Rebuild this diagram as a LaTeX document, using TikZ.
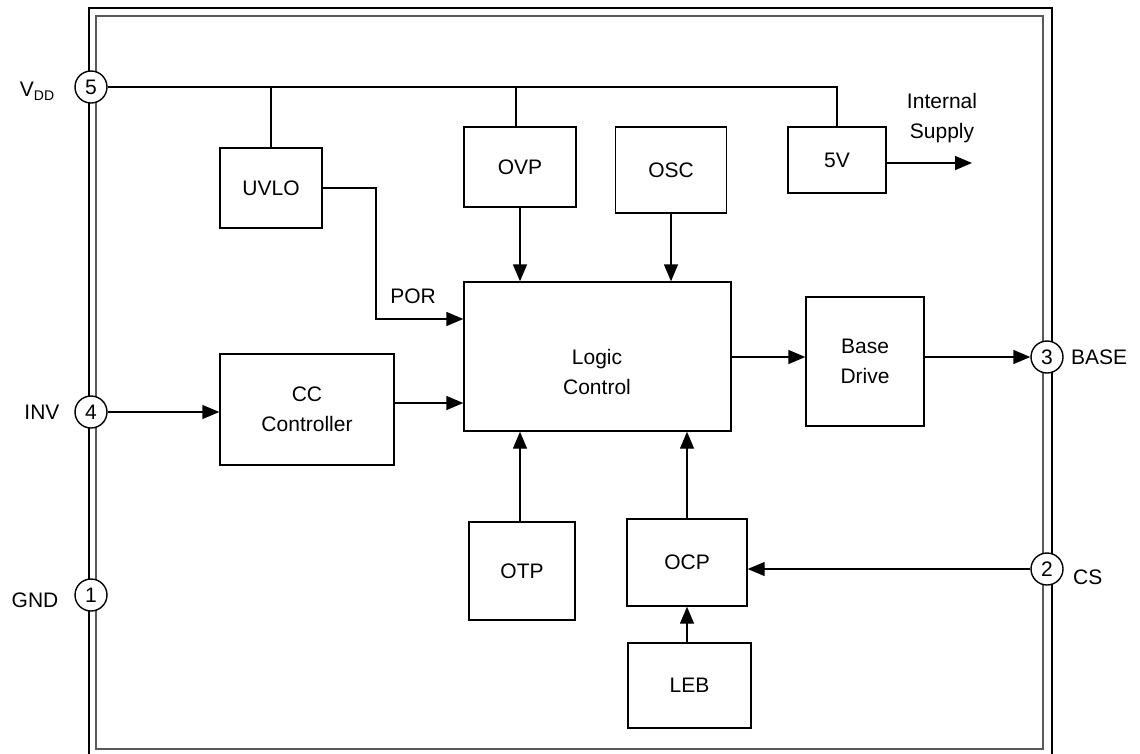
\documentclass[tikz,border=0pt]{standalone}
\usepackage{fontspec}
\setmainfont{Liberation Sans}
\usetikzlibrary{arrows.meta}
\begin{document}
\begin{tikzpicture}[x=1pt,y=-1pt,
  txt/.style={font=\fontsize{21}{30}\selectfont, inner sep=0pt},
  blk/.style={draw, line width=1.4pt, inner sep=0pt, align=center, font=\fontsize{21}{30}\selectfont},
  pinc/.style={draw, circle, fill=white, line width=1.4pt, minimum size=32pt, inner sep=0pt, font=\fontsize{21}{24}\selectfont},
  wire/.style={line width=1.4pt},
  arr/.style={line width=1.4pt, -{Triangle[length=17pt,width=14pt]}}]
\useasboundingbox (0,0) rectangle (1140,753);
% package outline
\draw[line width=2.2pt] (89,8) rectangle (1052,770);
\draw[line width=1.6pt, black!65] (96,16) rectangle (1043,749);
% blocks
\node[blk, minimum width=102pt, minimum height=80pt] (uvlo) at (271,188) {UVLO};
\node[blk, minimum width=112pt, minimum height=80pt] (ovp) at (520,167) {OVP};
\node[blk, minimum width=111pt, minimum height=86pt] (osc) at (671,170) {OSC};
\node[blk, minimum width=98pt, minimum height=66pt] (v5) at (837,160) {5V};
\node[blk, minimum width=267pt, minimum height=149pt] (logic) at (597.5,356.5) {};
\node[txt, align=center] (logictxt) at (597,372) {Logic\\Control};
\node[blk, minimum width=118pt, minimum height=129pt] (base) at (865,361.5) {Base\\Drive};
\node[blk, minimum width=174pt, minimum height=111pt] (cc) at (307,409.5) {CC\\Controller};
\node[blk, minimum width=106pt, minimum height=98pt] (otp) at (522,571) {OTP};
\node[blk, minimum width=120pt, minimum height=87pt] (ocp) at (687,562.5) {OCP};
\node[blk, minimum width=123pt, minimum height=85pt] (leb) at (689.5,685.5) {LEB};
% pins
\node[pinc] (p5) at (91,87) {5};
\node[pinc] (p4) at (91,412) {4};
\node[pinc] (p1) at (91,595) {1};
\node[pinc] (p3) at (1047,357) {3};
\node[pinc] (p2) at (1047,569) {2};
% pin labels
\node[txt] (lvdd) at (37,91) {V\raisebox{-0.35ex}{\fontsize{14}{14}\selectfont DD}};
\node[txt] (linv) at (42,412) {INV};
\node[txt] (lgnd) at (35,600) {GND};
\node[txt, anchor=west] (lbase) at (1071,357) {BASE};
\node[txt, anchor=west] (lcs) at (1073,577) {CS};
% VDD bus
\draw[wire] (p5.east) -- (v5.north |- p5) -- (v5.north);
\draw[wire] (uvlo.north |- p5) -- (uvlo.north);
\draw[wire] ([xshift=-4pt]ovp.north |- p5) -- ([xshift=-4pt]ovp.north);
% UVLO -> POR -> logic
\coordinate (porbend) at (376,319);
\draw[arr] (uvlo.east) -| (porbend) -- (porbend -| logic.west);
\node[txt] (por) at (413,296) {POR};
% top arrows
\draw[arr] (ovp.south) -- (ovp.south |- logic.north);
\draw[arr] (osc.south) -- (osc.south |- logic.north);
% internal supply
\coordinate (isup) at (972,163);
\draw[arr] (v5.east |- isup) -- (isup);
\node[txt, align=center] (isl) at (942,118) {Internal\\Supply};
% logic -> base -> pin 3
\draw[arr] (logic.east |- p3) -- (base.west |- p3);
\draw[arr] (base.east |- p3) -- (p3.west);
% pin 4 -> CC -> logic
\draw[arr] (p4.east) -- (p4 -| cc.west);
\draw[arr] ([yshift=6.5pt]cc.east) -- ([yshift=6.5pt]cc.east -| logic.west);
% bottom arrows
\draw[arr] ([xshift=-2pt]otp.north) -- ([xshift=-2pt]otp.north |- logic.south);
\draw[arr] (ocp.north) -- (ocp.north |- logic.south);
\draw[arr] (ocp.south |- leb.north) -- (ocp.south);
\draw[arr] (p2.west) -- (p2 -| ocp.east);
\end{tikzpicture}
\end{document}
